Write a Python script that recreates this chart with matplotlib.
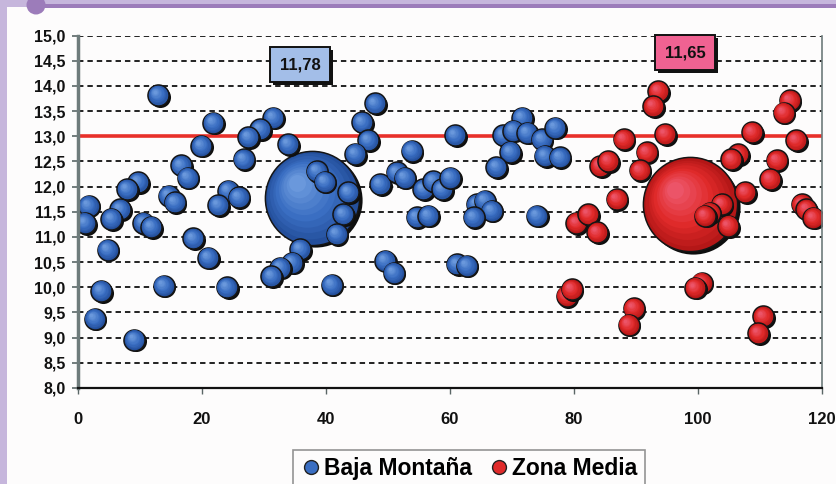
import numpy as np
import matplotlib
matplotlib.use("Agg")
import matplotlib.pyplot as plt
from matplotlib import transforms, patheffects
from matplotlib.colors import to_rgb
from matplotlib.patches import Rectangle, Ellipse
from matplotlib.lines import Line2D

plt.rcParams["font.family"] = ["Liberation Sans", "DejaVu Sans"]
plt.rcParams["font.weight"] = "bold"

# ---- data -------------------------------------------------------------
baja_x = [12.9, 21.8, 19.9, 31.5, 29.4, 27.5, 26.7, 16.6, 17.7, 9.7,
          7.9, 1.7, 1.1, 6.8, 5.4, 10.5, 11.8, 14.6, 15.6, 24.2,
          25.9, 22.6, 18.6, 21.0, 4.8, 13.8, 24.0, 3.7, 2.7, 9.1,
          47.9, 45.8, 46.8, 44.7, 33.9, 38.5, 39.8, 43.6, 42.8, 41.7,
          35.8, 34.5, 32.6, 31.2, 40.9, 48.7, 51.4, 52.7, 53.8, 55.7,
          57.3, 58.7, 60.0, 54.6, 56.5, 49.5, 50.9, 60.8, 61.1, 62.7,
          71.6, 68.6, 70.2, 72.4, 74.8, 77.0, 69.7, 67.5, 75.3, 77.7,
          64.3, 65.6, 66.7, 63.8, 74.0]
baja_y = [13.82, 13.27, 12.81, 13.37, 13.14, 12.98, 12.54, 12.42, 12.18, 12.09,
          11.95, 11.62, 11.28, 11.55, 11.36, 11.28, 11.20, 11.82, 11.69, 11.92,
          11.79, 11.63, 10.97, 10.59, 10.75, 10.03, 10.00, 9.93, 9.38, 8.96,
          13.65, 13.28, 12.92, 12.65, 12.84, 12.31, 12.10, 11.89, 11.45, 11.06,
          10.76, 10.49, 10.39, 10.22, 10.05, 12.05, 12.28, 12.18, 12.71, 11.95,
          12.11, 11.95, 12.18, 11.39, 11.42, 10.53, 10.29, 13.02, 10.46, 10.43,
          13.37, 13.02, 13.11, 13.07, 12.94, 13.17, 12.69, 12.39, 12.61, 12.58,
          11.65, 11.72, 11.52, 11.39, 11.42]
baja_size = [1] * len(baja_x)

zona_x = [88.0, 91.7, 90.6, 84.2, 85.5, 86.9, 80.4, 82.3, 83.7, 78.8,
          79.6, 89.6, 88.8, 93.6, 92.8, 94.7, 106.5, 105.4, 107.6, 108.7,
          112.7, 111.6, 114.8, 113.8, 115.8, 116.7, 117.5, 118.6, 103.8, 101.9,
          101.1, 104.9, 100.6, 99.5, 110.5, 109.7]
zona_y = [12.94, 12.68, 12.32, 12.41, 12.51, 11.75, 11.28, 11.45, 11.09, 9.83,
          9.96, 9.59, 9.26, 13.90, 13.60, 13.04, 12.64, 12.54, 11.89, 13.08,
          12.52, 12.15, 13.71, 13.47, 12.92, 11.65, 11.55, 11.38, 11.65, 11.48,
          11.42, 11.22, 10.09, 9.99, 9.42, 9.09]
zona_size = [1] * len(zona_x)

# group averages (large bubbles)
baja_mean_x, baja_mean_y, baja_mean_size = 37.7, 11.78, 20
zona_mean_x, zona_mean_y, zona_mean_size = 98.7, 11.65, 20

umbral = 13.0
series_names = ["Baja Montaña", "Zona Media"]
y_ticks = np.arange(8.0, 15.01, 0.5)
x_ticks = np.arange(0, 121, 20)

# ---- figure -----------------------------------------------------------
W, H = 837, 484
fig = plt.figure(figsize=(W / 100, H / 100), dpi=100)
fig.patch.set_facecolor("#FDFCFC")


def fx(px):
    return px / W


def fy(py):
    return 1 - py / H


# page decoration: lavender frame, purple rule and dot
fig.add_artist(Rectangle((0, 0), fx(7), 1, transform=fig.transFigure,
                         fc="#C6B6DC", ec="none", zorder=0))
fig.add_artist(Rectangle((0, fy(7)), 1, 1 - fy(7), transform=fig.transFigure,
                         fc="#C6B6DC", ec="none", zorder=0))
fig.add_artist(Rectangle((fx(30), fy(7.5)), 1, fy(4) - fy(7.5),
                         transform=fig.transFigure, fc="#9C7CBA", ec="none", zorder=1))
fig.add_artist(Ellipse((fx(36), fy(5)), 2 * 9.5 / W, 2 * 9.5 / H,
                       transform=fig.transFigure, fc="#9C7CBA", ec="none", zorder=1))

ax = fig.add_axes([fx(78), fy(388), fx(822) - fx(78), fy(35.5) - fy(388)])
ax.set_facecolor("#FDFCFC")
ax.set_xlim(0, 120)
ax.set_ylim(8, 15)

ax.set_yticks(y_ticks)
ax.set_yticklabels([f"{v:.1f}".replace(".", ",") for v in y_ticks])
ax.set_xticks(x_ticks)
ax.set_xticklabels([str(v) for v in x_ticks])
ax.tick_params(axis="y", direction="out", length=4, width=1.2, color="#5A6666",
               pad=5, labelsize=11.5)
ax.tick_params(axis="x", direction="out", length=4, width=1.0, color="#5A6666",
               pad=13, labelsize=12)
for lab in ax.get_xticklabels() + ax.get_yticklabels():
    lab.set_fontweight("bold")
    lab.set_color("#111111")

ax.set_axisbelow(True)
ax.yaxis.grid(True, linestyle=(0, (3, 2.2)), color="#111111", lw=1.3)
ax.xaxis.grid(False)

ax.spines["top"].set_visible(False)
ax.spines["left"].set_color("#6E7B7B")
ax.spines["left"].set_linewidth(2.5)
ax.spines["right"].set_color("#6E7B7B")
ax.spines["right"].set_linewidth(1.2)
ax.spines["bottom"].set_color("#111111")
ax.spines["bottom"].set_linewidth(1.6)
for sp in ax.spines.values():
    sp.set_zorder(1000)

ax.axhline(umbral, color="#E8302A", lw=2.6, zorder=1.5)


def mix(c1, c2, t):
    a, b = np.array(to_rgb(c1)), np.array(to_rgb(c2))
    return tuple(a + (b - a) * t)


BASE_S = 230.0  # marker area (pt^2) for size 1


def bubble(x, y, size, dark, mid, light, z):
    s = BASE_S * size
    r = np.sqrt(s) / 2
    d = 1.0 + 0.03 * r
    sh = transforms.offset_copy(ax.transData, fig=fig, x=d, y=-d, units="points")
    ax.scatter([x], [y], s=s, color="#0E0E0E", linewidths=0, transform=sh, zorder=z)
    ax.scatter([x], [y], s=s, facecolor=dark, edgecolor="#151515",
               linewidths=1.1, zorder=z + 0.01)
    n = 9
    for i in range(1, n + 1):
        t = i / n
        f = 1 - 0.82 * t
        if t <= 0.45:
            c = mix(dark, mid, t / 0.45)
        else:
            c = mix(mid, light, (t - 0.45) / 0.55)
        off = (1 - f) * r * 0.38
        tr = transforms.offset_copy(ax.transData, fig=fig, x=-off, y=off, units="points")
        ax.scatter([x], [y], s=s * f * f, color=c, linewidths=0,
                   transform=tr, zorder=z + 0.01 * (i + 1))


BLUE = ("#244F9C", "#3A6EC2", "#6A98DC")
RED = ("#B41717", "#E02A2A", "#EC5468")

z = 2
bubble(baja_mean_x, baja_mean_y, baja_mean_size, *BLUE, z); z += 1
bubble(zona_mean_x, zona_mean_y, zona_mean_size, *RED, z); z += 1
for x, y, sz in zip(baja_x, baja_y, baja_size):
    bubble(x, y, sz, *BLUE, z); z += 1
for x, y, sz in zip(zona_x, zona_y, zona_size):
    bubble(x, y, sz, *RED, z); z += 1

# value labels for the group averages
for ym, fc, tx, ty in [(baja_mean_y, "#A3BEE8", 35.8, 14.42),
                       (zona_mean_y, "#F06292", 97.9, 14.66)]:
    t = ax.text(tx, ty, f"{ym:.2f}".replace(".", ","), ha="center", va="center",
                fontsize=12, fontweight="bold", color="#111111", zorder=2000,
                bbox=dict(boxstyle="square,pad=0.6", fc=fc, ec="#111111", lw=1.4))
    t.get_bbox_patch().set_path_effects([
        patheffects.withSimplePatchShadow(offset=(2.2, -2.2), shadow_rgbFace="#111111", alpha=1.0),
    ])

handles = [Line2D([], [], marker="o", linestyle="none", markersize=10,
                  markerfacecolor=c, markeredgecolor="#222222", markeredgewidth=1.0)
           for c in ("#3A6EC2", "#E02A2A")]
leg = fig.legend(handles, series_names, loc="upper center", ncol=2,
                 bbox_to_anchor=(fx(469), fy(450)), bbox_transform=fig.transFigure,
                 borderaxespad=0, frameon=True, fancybox=False, edgecolor="#7A7A7A",
                 prop={"weight": "bold", "size": 16.5}, handletextpad=0.15,
                 columnspacing=0.7, handlelength=0.9, borderpad=0.3)
leg.get_frame().set_linewidth(1.2)
leg.get_frame().set_facecolor("#FDFCFC")

fig.savefig("out.png", dpi=100, facecolor=fig.get_facecolor())
